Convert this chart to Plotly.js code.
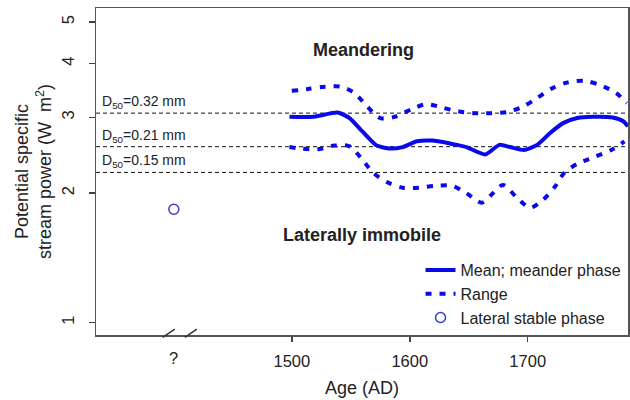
<!DOCTYPE html>
<html>
<head>
<meta charset="utf-8">
<script src="https://cdn.plot.ly/plotly-3.0.1.min.js"></script>
<style>html,body{margin:0;padding:0;background:#fff;}#chart{width:630px;height:400px;}</style>
</head>
<body>
<div id="chart"></div>
<script>
// ---- data ----
const meanYears = [1498, 1518, 1539, 1549, 1560, 1572, 1583, 1594, 1606, 1619, 1634, 1640, 1648, 1664, 1676, 1685, 1697, 1708, 1719, 1730, 1742, 1755, 1772, 1781, 1785];
const meanValues = [3.01, 3.01, 3.08, 2.99, 2.78, 2.58, 2.54, 2.56, 2.64, 2.65, 2.61, 2.59, 2.56, 2.46, 2.59, 2.56, 2.52, 2.59, 2.76, 2.91, 2.99, 3.01, 3.00, 2.94, 2.86];

const upperYears = [1500, 1513, 1526, 1541, 1553, 1564, 1575, 1587, 1602, 1614, 1628, 1641, 1655, 1669, 1683, 1696, 1708, 1721, 1734, 1748, 1761, 1775, 1784];
const upperValues = [3.46, 3.49, 3.53, 3.54, 3.42, 3.18, 2.99, 3.01, 3.14, 3.22, 3.16, 3.10, 3.07, 3.07, 3.09, 3.18, 3.33, 3.51, 3.62, 3.65, 3.57, 3.42, 3.24];

const lowerYears = [1498, 1508, 1522, 1536, 1549, 1559, 1569, 1581, 1594, 1608, 1621, 1636, 1648, 1661, 1669, 1679, 1691, 1702, 1713, 1723, 1731, 1742, 1757, 1772, 1782];
const lowerValues = [2.56, 2.54, 2.53, 2.58, 2.57, 2.41, 2.23, 2.12, 2.06, 2.06, 2.08, 2.08, 2.00, 1.90, 1.98, 2.09, 1.95, 1.85, 1.93, 2.07, 2.23, 2.34, 2.43, 2.53, 2.64];

const stableYears = [1400];
const stableValues = [1.835];

const thresholdValues = [3.07, 2.565, 2.235];
const thresholdLabels = ['D<sub>50</sub>=0.32 mm', 'D<sub>50</sub>=0.21 mm', 'D<sub>50</sub>=0.15 mm'];

const xTickVals = [1500, 1600, 1700];
const xTickText = ['1500', '1600', '1700'];
const unknownTickVal = 1400;
const unknownTickText = '?';
const yTickVals = [1, 2, 3, 4, 5];
const yTickText = ['1', '2', '3', '4', '5'];

const xRange = [1334, 1785];
const yRange = [0.936, 5.39];

// ---- build ----
const BLUE = '#0a0ae8';
const FONT = 'Liberation Sans, Arial, sans-serif';

const traces = [];
thresholdValues.forEach(v => {
  traces.push({
    x: xRange, y: [v, v], type: 'scatter', mode: 'lines',
    line: {color: '#111', width: 1, dash: '4px,3px'},
    showlegend: false, hoverinfo: 'skip'
  });
});
traces.push({
  x: meanYears, y: meanValues, type: 'scatter', mode: 'lines',
  name: 'Mean; meander phase',
  line: {color: BLUE, width: 4, shape: 'spline', smoothing: 0.6}
});
traces.push({
  x: upperYears, y: upperValues, type: 'scatter', mode: 'lines',
  name: 'Range', legendgroup: 'range',
  line: {color: BLUE, width: 4, dash: '6px,8px', shape: 'spline', smoothing: 0.8}
});
traces.push({
  x: lowerYears, y: lowerValues, type: 'scatter', mode: 'lines',
  name: 'Range', legendgroup: 'range', showlegend: false,
  line: {color: BLUE, width: 4, dash: '6px,8px', shape: 'spline', smoothing: 0.8}
});
traces.push({
  x: stableYears, y: stableValues, type: 'scatter', mode: 'markers',
  name: 'Lateral stable phase',
  marker: {symbol: 'circle-open', size: 10, color: '#3b3bd6', line: {width: 1.5, color: '#3b3bd6'}}
});

const annotations = [];
thresholdValues.forEach((v, i) => {
  annotations.push({
    xref: 'paper', x: 0.008, xanchor: 'left',
    yref: 'y', y: Math.log10(v), yanchor: 'bottom', yshift: 0,
    text: thresholdLabels[i], showarrow: false,
    font: {family: FONT, size: 14, color: '#222'}
  });
});
annotations.push({
  xref: 'paper', x: 0.502, xanchor: 'center', yref: 'paper', y: 0.872, yanchor: 'middle',
  text: '<b>Meandering</b>',
  showarrow: false, font: {family: FONT, size: 18, color: '#222'}
});
annotations.push({
  xref: 'paper', x: 0.5, xanchor: 'center', yref: 'paper', y: 0.306, yanchor: 'middle',
  text: '<b>Laterally immobile</b>',
  showarrow: false, font: {family: FONT, size: 18, color: '#222'}
});
annotations.push({
  xref: 'x', x: unknownTickVal, yref: 'paper', y: -0.07, yanchor: 'middle',
  text: unknownTickText, showarrow: false, font: {family: FONT, size: 16.5, color: '#222'}
});

const shapes = [
  {type: 'line', xref: 'x', yref: 'paper', x0: 1390.5, x1: 1400.8, y0: -0.007, y1: 0.018, line: {color: '#333', width: 1.5}},
  {type: 'line', xref: 'x', yref: 'paper', x0: 1409.3, x1: 1419.5, y0: -0.007, y1: 0.018, line: {color: '#333', width: 1.5}}
];

const layout = {
  width: 630, height: 400,
  margin: {l: 96, r: 2, t: 8, b: 65},
  paper_bgcolor: '#fff', plot_bgcolor: '#fff',
  font: {family: FONT, color: '#222'},
  showlegend: true,
  legend: {
    x: 0.61, xanchor: 'left', y: 0.0, yanchor: 'bottom',
    bgcolor: 'rgba(0,0,0,0)', font: {family: FONT, size: 16, color: '#222'},
    tracegroupgap: 0, itemwidth: 30
  },
  xaxis: {
    range: xRange, showgrid: false, zeroline: false,
    tickmode: 'array', tickvals: xTickVals, ticktext: xTickText,
    ticks: 'outside', ticklen: 5, tickcolor: '#444', tickwidth: 1.5,
    showline: true, linecolor: '#555', linewidth: 1.5, mirror: true,
    ticklabelstandoff: 6,
    tickfont: {family: FONT, size: 16.5, color: '#222'},
    title: {text: 'Age (AD)', font: {family: FONT, size: 18, color: '#222'}, standoff: 12}
  },
  yaxis: {
    type: 'log', range: [Math.log10(yRange[0]), Math.log10(yRange[1])],
    showgrid: false, zeroline: false,
    tickmode: 'array', tickvals: yTickVals, ticktext: yTickText,
    ticks: 'outside', ticklen: 6, tickcolor: '#444', tickwidth: 1.5,
    tickangle: -90,
    showline: true, linecolor: '#555', linewidth: 1.5, mirror: true,
    ticklabelstandoff: 8,
    tickfont: {family: FONT, size: 16.5, color: '#222'},
    title: {text: 'Potential specific<br>stream power (W  m<sup>2</sup>)', font: {family: FONT, size: 18, color: '#222'}, standoff: 2}
  },
  annotations: annotations,
  shapes: shapes
};

Plotly.newPlot('chart', traces, layout, {staticPlot: true, displayModeBar: false});
</script>
</body>
</html>
